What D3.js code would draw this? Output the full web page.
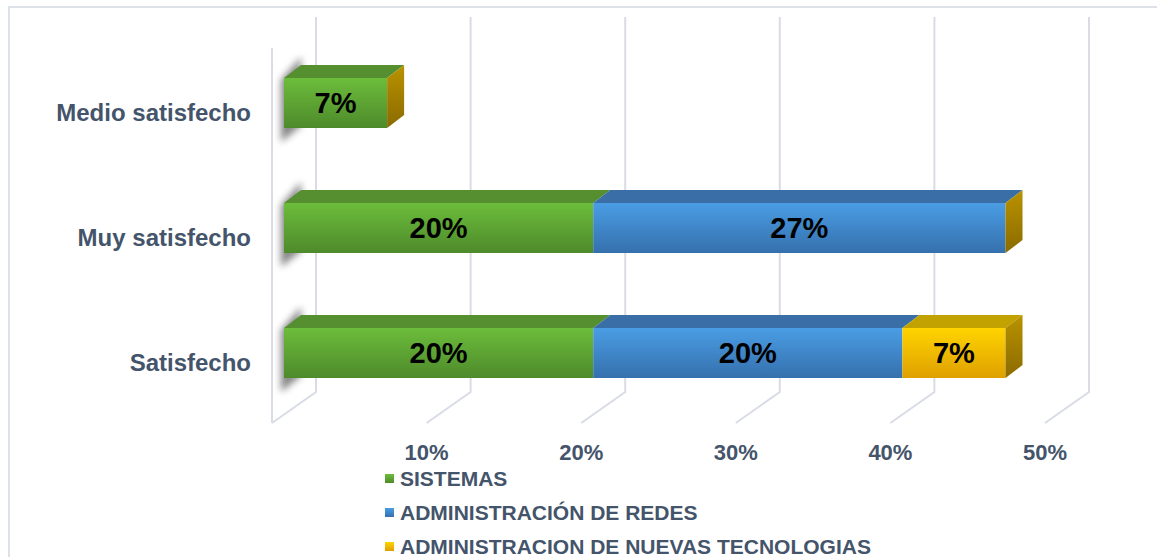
<!DOCTYPE html>
<html>
<head>
<meta charset="utf-8">
<script src="https://cdn.jsdelivr.net/npm/d3@7"></script>
<style>
  body { margin: 0; background: #fff; }
  svg { display: block; font-family: "Liberation Sans", Arial, sans-serif; }
</style>
</head>
<body>
<div id="chart"></div>
<script>
// Data (percentages)
const categories = ["Medio satisfecho", "Muy satisfecho", "Satisfecho"];
const sistemas = [6.67, 20, 20];
const redes = [0, 26.67, 20];
const nuevasTec = [0, 0, 6.67];
const seriesNames = ["SISTEMAS", "ADMINISTRACIÓN DE REDES", "ADMINISTRACION DE NUEVAS TECNOLOGIAS"];
const tickValues = [10, 20, 30, 40, 50];
const tickLabels = ["10%", "20%", "30%", "40%", "50%"];

const width = 1157, height = 557;
const textColor = "#44546a";
const gridColor = "#d9dce4";

// colours for each series: front gradient top/bottom, top face
const colors = [
	{ top: "#6cbd3b", bottom: "#4e8a2b", roof: "#558f2f" },
	{ top: "#4a9de4", bottom: "#3570ad", roof: "#3a6ea6" },
	{ top: "#ffd400", bottom: "#dea000", roof: "#c2a200" }
];

const svg = d3.select("#chart").append("svg")
	.attr("width", width)
	.attr("height", height);

const defs = svg.append("defs");
colors.forEach((c, i) => {
	const g = defs.append("linearGradient")
		.attr("id", "grad" + i)
		.attr("x1", 0).attr("y1", 0).attr("x2", 0).attr("y2", 1);
	g.append("stop").attr("offset", "0%").attr("stop-color", c.top);
	g.append("stop").attr("offset", "100%").attr("stop-color", c.bottom);
});
const side = defs.append("linearGradient")
	.attr("id", "sideGrad")
	.attr("x1", 0).attr("y1", 0).attr("x2", 0).attr("y2", 1);
side.append("stop").attr("offset", "0%").attr("stop-color", "#b99300");
side.append("stop").attr("offset", "100%").attr("stop-color", "#8b6a00");
defs.append("filter").attr("id", "blur")
	.attr("x", "-50%").attr("y", "-50%").attr("width", "200%").attr("height", "200%")
	.append("feGaussianBlur").attr("stdDeviation", 3.5);

// outer chart border (only top and left visible)
svg.append("path")
	.attr("d", "M9,560 L9,7 L1160,7")
	.attr("fill", "none")
	.attr("stroke", "#dde1e8")
	.attr("stroke-width", 2);

// scales
const x = d3.scaleLinear().domain([0, 50]).range([284, 1057]);
const y = d3.scaleBand().domain(categories).range([3, 453]).paddingInner(0.6).paddingOuter(0.6);

// 3D offsets
const wallFront = -12, wallBack = 32;   // relative to bar plane
const floorY = 423, backBottom = 392, backTop = 17;
const dx = 17, dy = 13;                 // bar depth

// gridlines: back vertical + floor diagonal
const grid = svg.append("g");
[0].concat(tickValues).forEach(v => {
	grid.append("path")
		.attr("d", "M" + (x(v) + wallBack) + "," + backTop +
			" L" + (x(v) + wallBack) + "," + backBottom +
			" L" + (x(v) + wallFront) + "," + floorY)
		.attr("fill", "none")
		.attr("stroke", gridColor)
		.attr("stroke-width", 2);
});
// side wall front edge
grid.append("line")
	.attr("x1", x(0) + wallFront).attr("x2", x(0) + wallFront)
	.attr("y1", backTop + 31).attr("y2", floorY)
	.attr("stroke", gridColor)
	.attr("stroke-width", 2);

// tick labels
svg.append("g").selectAll("text")
	.data(tickValues)
	.join("text")
	.attr("x", d => x(d) + wallFront)
	.attr("y", 460)
	.attr("text-anchor", "middle")
	.attr("font-size", "22px")
	.attr("font-weight", "bold")
	.attr("fill", textColor)
	.text((d, i) => tickLabels[i]);

// category labels
svg.append("g").selectAll("text")
	.data(categories)
	.join("text")
	.attr("x", 251)
	.attr("y", d => y(d) + y.bandwidth() / 2 + 10)
	.attr("dy", "0.35em")
	.attr("text-anchor", "end")
	.attr("font-size", "24px")
	.attr("font-weight", "bold")
	.attr("fill", textColor)
	.text(d => d);

// bars
const series = [sistemas, redes, nuevasTec];
const bars = svg.append("g");
categories.forEach((cat, ci) => {
	const y0 = y(cat), h = y.bandwidth();
	const g = bars.append("g");
	// shadow on the side wall
	g.append("polygon")
		.attr("points", [[x(0) - 3, y0 + 2], [x(0) + dx, y0 - dy - 8], [x(0) + dx, y0 + h - 2], [x(0) - 3, y0 + h + 14]].join(" "))
		.attr("fill", "#555")
		.attr("opacity", 0.7)
		.attr("filter", "url(#blur)");
	let acc = 0;
	series.forEach((s, si) => {
		const v = s[ci];
		const x0 = x(acc), x1 = x(acc + v);
		acc += v;
		if (v <= 0) return;
		g.append("rect")
			.attr("x", x0).attr("y", y0)
			.attr("width", x1 - x0).attr("height", h)
			.attr("fill", "url(#grad" + si + ")");
		g.append("polygon")
			.attr("points", [[x0, y0], [x1, y0], [x1 + dx, y0 - dy], [x0 + dx, y0 - dy]].join(" "))
			.attr("fill", colors[si].roof);
		g.append("text")
			.attr("x", (x0 + x1) / 2)
			.attr("y", y0 + h / 2)
			.attr("dy", "0.36em")
			.attr("text-anchor", "middle")
			.attr("font-size", "29px")
			.attr("font-weight", "bold")
			.attr("fill", "#000")
			.text(Math.round(v) + "%");
	});
	// end cap (side face)
	const xe = x(acc);
	g.append("polygon")
		.attr("points", [[xe, y0], [xe + dx, y0 - dy], [xe + dx, y0 + h - dy], [xe, y0 + h]].join(" "))
		.attr("fill", "url(#sideGrad)");
});

// legend
const legend = svg.append("g").selectAll("g")
	.data(seriesNames)
	.join("g")
	.attr("transform", (d, i) => "translate(385," + (478 + i * 34) + ")");
legend.append("rect")
	.attr("x", 0).attr("y", -4)
	.attr("width", 9).attr("height", 9)
	.attr("fill", (d, i) => "url(#grad" + i + ")");
legend.append("text")
	.attr("x", 15)
	.attr("y", 0)
	.attr("dy", "0.36em")
	.attr("font-size", "21px")
	.attr("font-weight", "bold")
	.attr("fill", textColor)
	.text(d => d);
</script>
</body>
</html>
